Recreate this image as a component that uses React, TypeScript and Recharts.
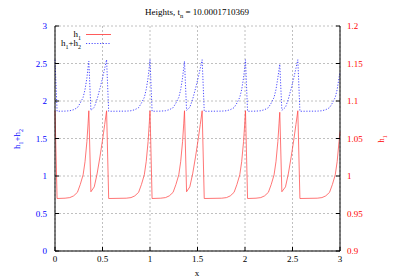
import React from 'react';
import { LineChart, Line, XAxis, YAxis, CartesianGrid } from 'recharts';

const xs = [
  0, 0.022, 0.106, 0.156, 0.196, 0.236, 0.266, 0.296, 0.316, 0.336, 0.348, 0.356,
  0.378, 0.413, 0.443, 0.473, 0.503, 0.523, 0.543,
  0.565, 0.75, 0.8, 0.84, 0.88, 0.91, 0.94, 0.96, 0.98, 0.992, 1.0,
  1.022, 1.113, 1.163, 1.203, 1.243, 1.273, 1.303, 1.323, 1.343, 1.355, 1.363,
  1.385, 1.419, 1.449, 1.479, 1.509, 1.529, 1.549,
  1.571, 1.755, 1.805, 1.845, 1.885, 1.915, 1.945, 1.965, 1.985, 1.997, 2.005,
  2.027, 2.116, 2.166, 2.206, 2.246, 2.276, 2.306, 2.326, 2.346, 2.358, 2.366,
  2.388, 2.426, 2.456, 2.486, 2.516, 2.536, 2.556,
  2.578, 2.76, 2.81, 2.85, 2.89, 2.92, 2.95, 2.97, 2.99, 3.0,
];

const h1 = [
  1.087, 0.97, 0.9704, 0.9712, 0.9735, 0.9782, 0.9887, 1.0016, 1.0191, 1.0461, 1.0695, 1.087,
  0.979, 0.9855, 1.0028, 1.0254, 1.0503, 1.0686, 1.087,
  0.97, 0.9704, 0.9712, 0.9735, 0.9782, 0.9887, 1.0016, 1.0191, 1.0461, 1.0695, 1.087,
  0.97, 0.9704, 0.9712, 0.9735, 0.9782, 0.9887, 1.0016, 1.0191, 1.0461, 1.0695, 1.087,
  0.979, 0.9855, 1.0028, 1.0254, 1.0503, 1.0686, 1.087,
  0.97, 0.9704, 0.9712, 0.9735, 0.9782, 0.9887, 1.0016, 1.0191, 1.0461, 1.0695, 1.087,
  0.97, 0.9704, 0.9712, 0.9735, 0.9782, 0.9887, 1.0016, 1.0191, 1.0461, 1.0695, 1.085,
  0.979, 0.9855, 1.0028, 1.0254, 1.0503, 1.0686, 1.087,
  0.97, 0.9704, 0.9712, 0.9735, 0.9782, 0.9887, 1.0016, 1.0191, 1.0461, 1.059,
];

const h12 = [
  2.55, 1.863, 1.865, 1.87, 1.884, 1.911, 1.973, 2.048, 2.152, 2.31, 2.447, 2.53,
  1.876, 1.916, 2.024, 2.166, 2.321, 2.435, 2.55,
  1.863, 1.865, 1.87, 1.884, 1.911, 1.973, 2.048, 2.152, 2.31, 2.447, 2.55,
  1.863, 1.865, 1.87, 1.884, 1.911, 1.973, 2.048, 2.152, 2.31, 2.447, 2.53,
  1.876, 1.916, 2.024, 2.166, 2.321, 2.435, 2.55,
  1.863, 1.865, 1.87, 1.884, 1.911, 1.973, 2.048, 2.152, 2.31, 2.447, 2.55,
  1.863, 1.865, 1.87, 1.884, 1.911, 1.973, 2.048, 2.152, 2.31, 2.42, 2.49,
  1.876, 1.916, 2.024, 2.166, 2.321, 2.435, 2.55,
  1.863, 1.865, 1.87, 1.884, 1.911, 1.973, 2.048, 2.152, 2.31, 2.385,
];

const xTicks = [0, 0.5, 1, 1.5, 2, 2.5, 3];
const leftTicks = [0, 0.5, 1, 1.5, 2, 2.5, 3];
const rightTicks = [0.9, 0.95, 1, 1.05, 1.1, 1.15, 1.2];

const data = xs.map((x, i) => ({ x, h1: h1[i], h12: h12[i] }));

const FONT = '"Liberation Serif", "DejaVu Serif", serif';
const FS = 9;
const RED = '#ff4848';
const BLUE = '#3838ff';

export default function App() {
  return (
    <div style={{ position: 'absolute', left: 0, top: 0, width: 400, height: 280, background: '#fff', fontFamily: FONT }}>
      <LineChart width={400} height={280} data={data} margin={{ top: 26, right: 0, bottom: 0, left: 0 }}>
        <CartesianGrid yAxisId="left" stroke="#b0b0b0" strokeDasharray="2 2" strokeWidth={0.8} />
        <XAxis
          dataKey="x"
          type="number"
          domain={[0, 3]}
          ticks={xTicks}
          height={29}
          tickSize={-4}
          tickMargin={9}
          stroke="#000"
          tick={{ fill: '#000', fontSize: FS, fontFamily: FONT }}
        />
        <XAxis
          xAxisId="top"
          orientation="top"
          dataKey="x"
          type="number"
          domain={[0, 3]}
          ticks={xTicks}
          height={0}
          tickSize={-4}
          tickFormatter={() => ''}
          stroke="#000"
        />
        <YAxis
          yAxisId="left"
          type="number"
          domain={[0, 3]}
          ticks={leftTicks}
          width={55}
          tickSize={-4}
          tickMargin={12}
          stroke="#000"
          tick={{ fill: '#0000ff', fontSize: FS, fontFamily: FONT }}
        />
        <YAxis
          yAxisId="right"
          orientation="right"
          type="number"
          domain={[0.9, 1.2]}
          ticks={rightTicks}
          width={60}
          tickSize={-4}
          tickMargin={11}
          stroke="#000"
          tick={{ fill: '#ff0000', fontSize: FS, fontFamily: FONT, textAnchor: 'start' }}
        />
        <Line
          yAxisId="right"
          dataKey="h1"
          type="linear"
          stroke={RED}
          strokeWidth={0.75}
          dot={false}
          isAnimationActive={false}
        />
        <Line
          yAxisId="left"
          dataKey="h12"
          type="linear"
          stroke={BLUE}
          strokeWidth={0.9}
          strokeDasharray="1.2 1.6"
          dot={false}
          isAnimationActive={false}
        />
      </LineChart>

      <div style={{ position: 'absolute', left: 54, width: 286, top: 6, textAlign: 'center', fontSize: 9, lineHeight: '12px', color: '#000' }}>
        Heights, t<sub style={{ fontSize: 6.5 }}>n</sub> = 10.0001710369
      </div>

      <div style={{ position: 'absolute', left: 0, width: 81, top: 28, textAlign: 'right', fontSize: FS, lineHeight: '12px', color: '#000' }}>
        h<sub style={{ fontSize: 6 }}>1</sub>
      </div>
      <div style={{ position: 'absolute', left: 0, width: 81, top: 37, textAlign: 'right', fontSize: FS, lineHeight: '12px', color: '#000' }}>
        h<sub style={{ fontSize: 6 }}>1</sub>+h<sub style={{ fontSize: 6 }}>2</sub>
      </div>
      <svg style={{ position: 'absolute', left: 0, top: 0 }} width={400} height={280}>
        <line x1={86} x2={111} y1={34.5} y2={34.5} stroke={RED} strokeWidth={0.9} />
        <line x1={86} x2={111} y1={43.5} y2={43.5} stroke={BLUE} strokeWidth={0.9} strokeDasharray="1.2 1.6" />
      </svg>

      <div style={{ position: 'absolute', left: 18, top: 139, width: 0, height: 0 }}>
        <div style={{ position: 'absolute', transform: 'translate(-50%, -50%) rotate(-90deg)', whiteSpace: 'nowrap', fontSize: FS, color: '#0000ff' }}>
          h<sub style={{ fontSize: 6 }}>1</sub>+h<sub style={{ fontSize: 6 }}>2</sub>
        </div>
      </div>
      <div style={{ position: 'absolute', left: 382, top: 139, width: 0, height: 0 }}>
        <div style={{ position: 'absolute', transform: 'translate(-50%, -50%) rotate(-90deg)', whiteSpace: 'nowrap', fontSize: FS, color: '#ff0000' }}>
          h<sub style={{ fontSize: 6 }}>1</sub>
        </div>
      </div>
      <div style={{ position: 'absolute', left: 197, top: 273, width: 0, height: 0 }}>
        <div style={{ position: 'absolute', transform: 'translate(-50%, -50%)', whiteSpace: 'nowrap', fontSize: FS, color: '#000' }}>
          x
        </div>
      </div>
    </div>
  );
}
